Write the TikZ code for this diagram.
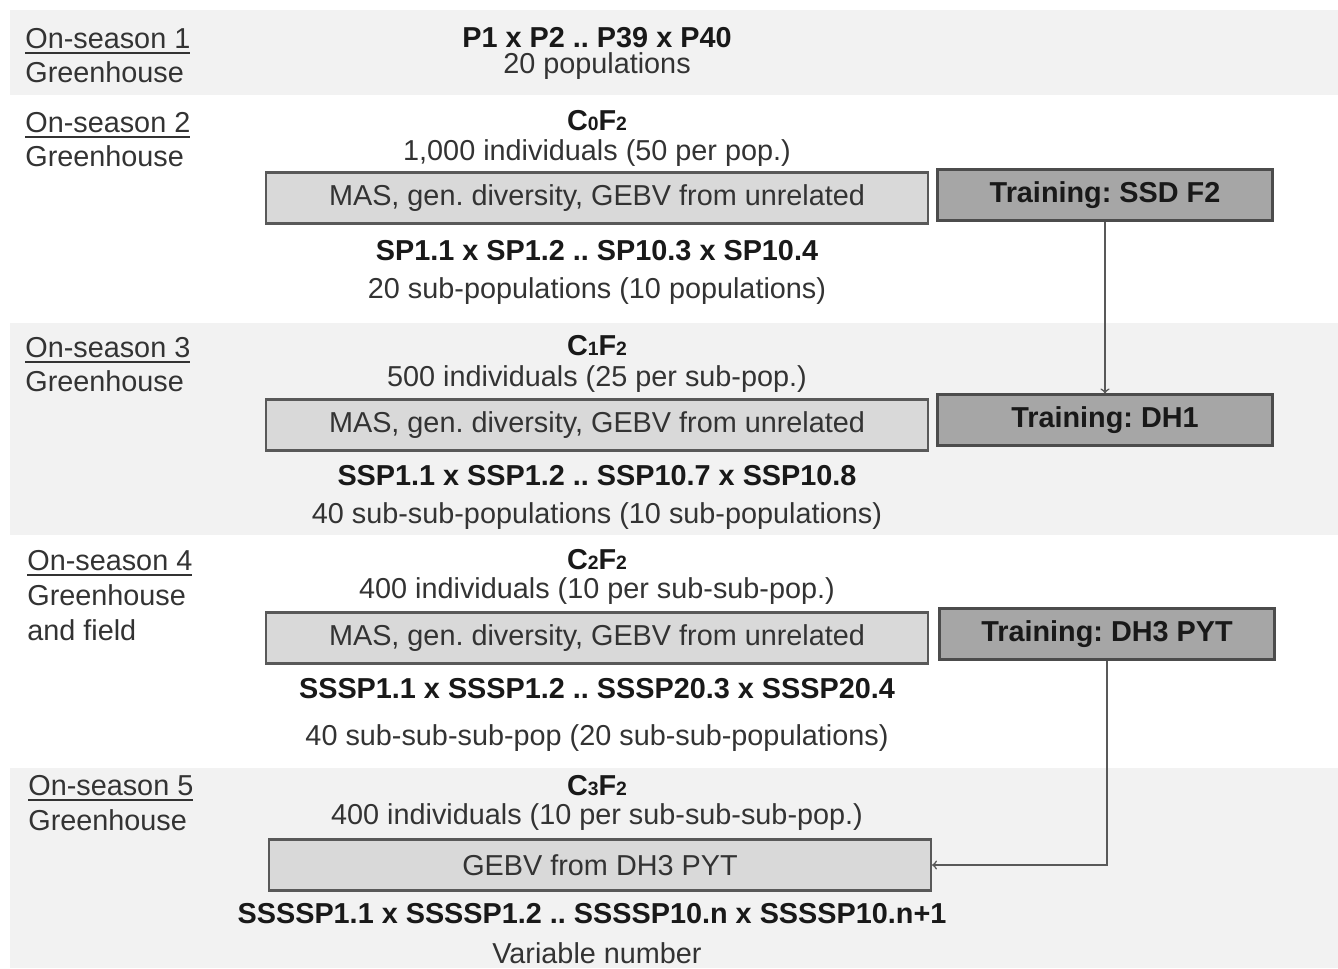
\documentclass[tikz,border=0pt]{standalone}
\usepackage{fontspec}
\setmainfont{Liberation Sans}
\usepackage{tikz}
\usetikzlibrary{arrows}

\definecolor{bandgrey}{HTML}{F2F2F2}
\definecolor{selfill}{HTML}{D9D9D9}
\definecolor{trainfill}{HTML}{A6A6A6}
\definecolor{edgegrey}{HTML}{595959}
\definecolor{txtgrey}{HTML}{333333}
\newcommand{\ulseason}[1]{\setbox0\hbox{#1}\rlap{\rule[-3.5pt]{\wd0}{1.1pt}}\box0}
\newcommand{\gensub}[1]{\raisebox{-0.5pt}{\fontsize{11}{11}\selectfont #1}}
\frenchspacing

\begin{document}
\begin{tikzpicture}[x=0.02cm,y=-0.02cm,
    every node/.style={font=\fontsize{16.4}{19.5}\selectfont, text=txtgrey},
    season/.style={anchor=base west, inner sep=0pt},
    line/.style={anchor=base, inner sep=0pt},
    bold/.style={anchor=base, inner sep=0pt, font=\fontsize{16.4}{19.5}\selectfont\bfseries, text=black!90},
    selbox/.style={draw=edgegrey, fill=selfill, line width=1.3pt, minimum width=13.24cm, minimum height=1.02cm, inner sep=0pt},
    trainbox/.style={draw=black!70, fill=trainfill, line width=1.3pt, minimum width=6.7cm, minimum height=1.02cm, inner sep=0pt, font=\fontsize{16.4}{19.5}\selectfont\bfseries, text=black!90}]
    \useasboundingbox (0,0) rectangle (1338,968);
    \fill[bandgrey] (10,10) rectangle (1338,95);
    \fill[bandgrey] (10,323) rectangle (1338,535);
    \fill[bandgrey] (10,768) rectangle (1338,968);

    \node[season] (on1) at (25,48) {\ulseason{On-season 1}};
    \node[season] (gh1) at (25,82) {Greenhouse};
    \node[season] (on2) at (25,132) {\ulseason{On-season 2}};
    \node[season] (gh2) at (25,166) {Greenhouse};
    \node[season] (on3) at (25,357) {\ulseason{On-season 3}};
    \node[season] (gh3) at (25,391) {Greenhouse};
    \node[season] (on4) at (27,570) {\ulseason{On-season 4}};
    \node[season] (gh4) at (27,605) {Greenhouse};
    \node[season] (fd4) at (27,640) {and field};
    \node[season] (on5) at (28,795) {\ulseason{On-season 5}};
    \node[season] (gh5) at (28,830) {Greenhouse};

    % season 1
    \node[bold] (cross1) at (597,47) {P1 x P2 .. P39 x P40};
    \node[line] (pop1) at (597,73) {20 populations};

    % season 2
    \node[bold] (gen2) at (597,130) {C\gensub{0}F\gensub{2}};
    \node[line] (ind2) at (597,160) {1,000 individuals (50 per pop.)};
    \node[selbox] (sel2) at (597,198) {MAS, gen. diversity, GEBV from unrelated};
    \node[bold] (cross2) at (597,260) {SP1.1 x SP1.2 .. SP10.3 x SP10.4};
    \node[line] (pop2) at (597,298) {20 sub-populations (10 populations)};
    \node[trainbox] (train2) at (1105,195) {Training: SSD F2};

    % season 3
    \node[bold] (gen3) at (597,355) {C\gensub{1}F\gensub{2}};
    \node[line] (ind3) at (597,386) {500 individuals (25 per sub-pop.)};
    \node[selbox] (sel3) at (597,425) {MAS, gen. diversity, GEBV from unrelated};
    \node[bold] (cross3) at (597,485) {SSP1.1 x SSP1.2 .. SSP10.7 x SSP10.8};
    \node[line] (pop3) at (597,523) {40 sub-sub-populations (10 sub-populations)};
    \node[trainbox] (train3) at (1105,420) {Training: DH1};

    % season 4
    \node[bold] (gen4) at (597,569) {C\gensub{2}F\gensub{2}};
    \node[line] (ind4) at (597,598) {400 individuals (10 per sub-sub-pop.)};
    \node[selbox] (sel4) at (597,638) {MAS, gen. diversity, GEBV from unrelated};
    \node[bold] (cross4) at (597,698) {SSSP1.1 x SSSP1.2 .. SSSP20.3 x SSSP20.4};
    \node[line] (pop4) at (597,745) {40 sub-sub-sub-pop (20 sub-sub-populations)};
    \node[trainbox] (train4) at (1107,634) {Training: DH3 PYT};

    % season 5
    \node[bold] (gen5) at (597,795) {C\gensub{3}F\gensub{2}};
    \node[line] (ind5) at (597,824) {400 individuals (10 per sub-sub-sub-pop.)};
    \node[selbox] (sel5) at (600,865) {GEBV from DH3 PYT};
    \node[bold] (cross5) at (592,923) {SSSSP1.1 x SSSSP1.2 .. SSSSP10.n x SSSSP10.n+1};
    \node[line] (pop5) at (597,963) {Variable number};

    \draw[->, edgegrey, line width=0.9pt] (train2) -- (train3);
    \draw[->, edgegrey, line width=0.9pt] (train4) |- (sel5);
\end{tikzpicture}
\end{document}
